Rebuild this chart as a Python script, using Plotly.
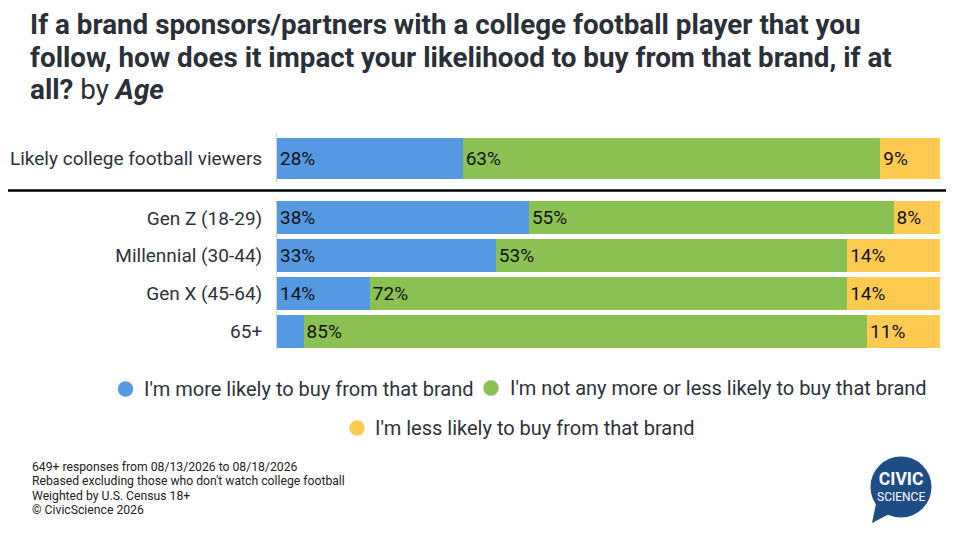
import plotly.graph_objects as go
from plotly.subplots import make_subplots

# data
series = ["I'm more likely to buy from that brand",
          "I'm not any more or less likely to buy that brand",
          "I'm less likely to buy from that brand"]
colors = ["#5599E3", "#8BC052", "#FFCA50"]

top_cats = ["Likely college football viewers"]
top_vals = [[28], [63], [9]]

age_cats = ["Gen Z (18-29)", "Millennial (30-44)", "Gen X (45-64)", "65+"]
age_vals = [[38, 33, 14, 4],
            [55, 53, 72, 85],
            [8, 14, 14, 11]]

title_lines = ["<b>If a brand sponsors/partners with a college football player that you</b>",
               "<b>follow, how does it impact your likelihood to buy from that brand, if at</b>",
               "<b>all?</b> by <b><i>Age</i></b>"]

footer = ["649+ responses from 08/13/2026 to 08/18/2026",
          "Rebased excluding those who don't watch college football",
          "Weighted by U.S. Census 18+",
          "© CivicScience 2026"]

# page is 966x535 but the body has an 8px margin, so the figure is a bit smaller
OFF = 8
FW, FH = 966 - 2 * OFF, 535 - 2 * OFF
FONT = "Roboto"
TXT = "#2d323c"


def fx(px):
    return (px - OFF) / FW


def fy(py):
    return 1 - (py - OFF) / FH


def lbl(vals):
    return [f"{v}%" if v >= 5 else "" for v in vals]


fig = make_subplots(rows=2, cols=1)

for i, name in enumerate(series):
    for row, cats, vals in [(1, top_cats, top_vals), (2, age_cats, age_vals)]:
        fig.add_trace(go.Bar(y=cats, x=vals[i], orientation="h", name=name,
                             marker=dict(color=colors[i], line=dict(width=0)),
                             text=lbl(vals[i]), textposition="inside",
                             insidetextanchor="start",
                             textfont=dict(family=FONT, size=19, color="#111"),
                             showlegend=False, hoverinfo="skip"), row=row, col=1)

xdom = [fx(277), fx(940)]
yax = dict(autorange="reversed", showline=True, linecolor="#d4d4d4", linewidth=1,
           ticks="", ticklabelstandoff=10,
           tickfont=dict(size=19, color=TXT, family=FONT))
fig.update_layout(
    width=FW, height=FH, margin=dict(l=0, r=0, t=0, b=0),
    barmode="stack",
    plot_bgcolor="white", paper_bgcolor="white",
    font=dict(family=FONT, color=TXT),
    uniformtext=dict(mode="show", minsize=10),
    xaxis=dict(domain=xdom, range=[0, 100], visible=False, fixedrange=True),
    xaxis2=dict(domain=xdom, range=[0, 100], visible=False, fixedrange=True),
    yaxis=dict(domain=[fy(183), fy(133)], **yax),
    yaxis2=dict(domain=[fy(350), fy(199)], **yax),
)
# separate gaps per panel
fig.update_traces(selector=dict(yaxis="y"), width=0.82)
fig.update_traces(selector=dict(yaxis="y2"), width=0.875)

# separator line
fig.add_shape(type="line", xref="paper", yref="paper",
              x0=fx(6), x1=fx(946), y0=fy(190.5), y1=fy(190.5),
              line=dict(color="black", width=2.5))

# title, one annotation per line to keep the tight line spacing
for k, line in enumerate(title_lines):
    fig.add_annotation(xref="paper", yref="paper", x=fx(28), y=fy(24.5 + 32.6 * k),
                       xanchor="left", yanchor="middle", showarrow=False,
                       text=line, font=dict(family=FONT, size=27.8, color="#2b2f38"))

# legend: dots as shapes, labels as text (two centred rows)
legend_pos = [(125.5, 389, 144), (491, 388, 510), (357, 428, 375)]
for k, (dx, dy, tx) in enumerate(legend_pos):
    fig.add_shape(type="circle", xref="paper", yref="paper",
                  x0=fx(dx - 7.7), x1=fx(dx + 7.7), y0=fy(dy + 7.7), y1=fy(dy - 7.7),
                  fillcolor=colors[k], line=dict(width=0))
    fig.add_annotation(xref="paper", yref="paper", x=fx(tx - 2), y=fy(dy),
                       xanchor="left", yanchor="middle", showarrow=False,
                       text=series[k], font=dict(family=FONT, size=20, color=TXT))

# footer
for k, line in enumerate(footer):
    fig.add_annotation(xref="paper", yref="paper", x=fx(30), y=fy(467 + 14.3 * k),
                       xanchor="left", yanchor="middle", showarrow=False,
                       text=line, font=dict(family=FONT, size=12.2, color="#222"))

# logo
cx, cy, r = 901, 487, 30.5
blue = "#1E4D86"
fig.add_shape(type="path", xref="paper", yref="paper",
              path=f"M {fx(cx - 24)} {fy(cy + 12)} L {fx(cx - 29)} {fy(cy + 36)} "
                   f"L {fx(cx - 6)} {fy(cy + 24)} Z",
              fillcolor=blue, line=dict(width=0), layer="below")
fig.add_shape(type="circle", xref="paper", yref="paper",
              x0=fx(cx - r), x1=fx(cx + r), y0=fy(cy + r), y1=fy(cy - r),
              fillcolor=blue, line=dict(width=0), layer="below")
fig.add_annotation(xref="paper", yref="paper", x=fx(cx), y=fy(486),
                   xanchor="center", yanchor="middle", showarrow=False,
                   text="<span style='font-size:17.5px'><b>CIVIC</b></span><br>SCIENCE",
                   font=dict(family=FONT, size=12, color="white"))

fig.write_html("out.html")
